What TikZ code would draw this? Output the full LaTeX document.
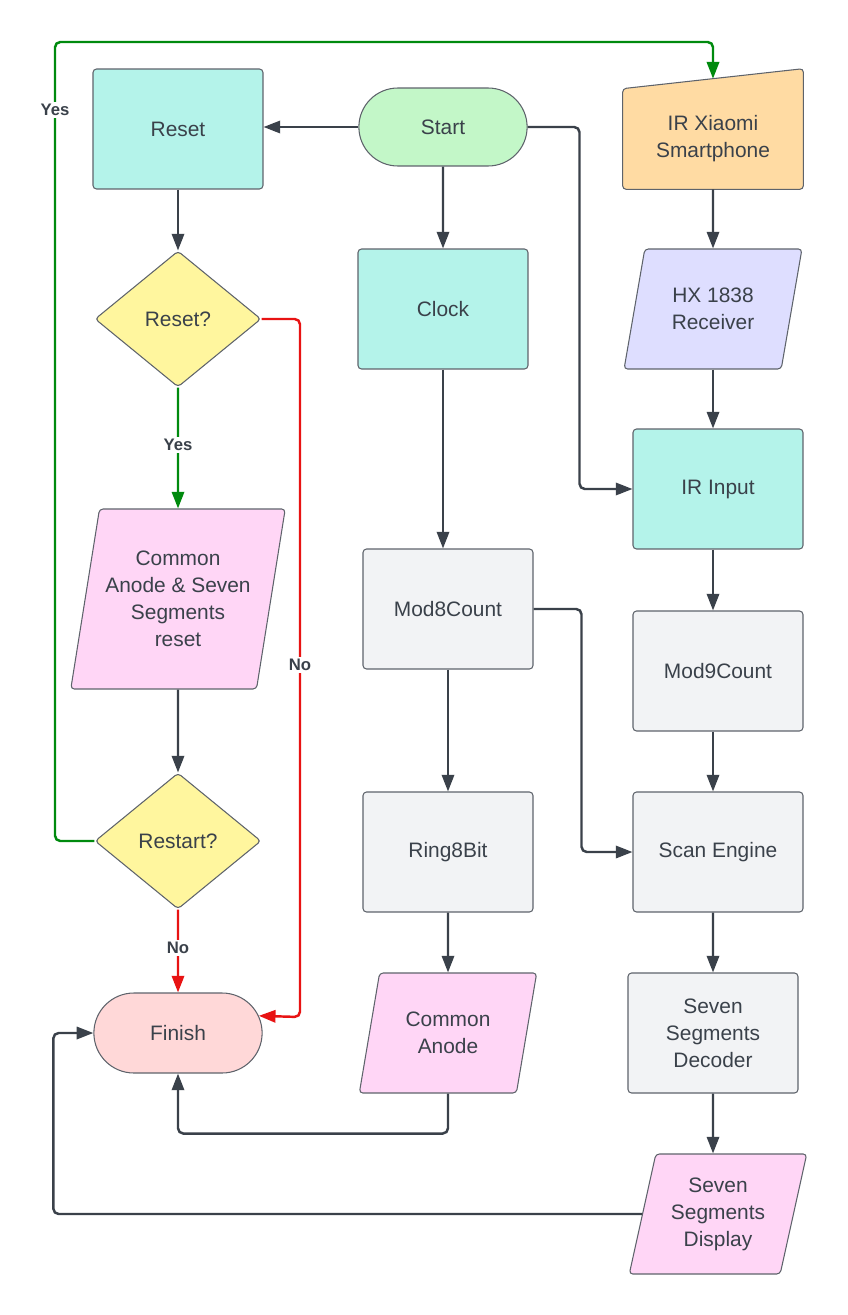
\documentclass[tikz,border=0pt]{standalone}
\usepackage{fontspec}
\setmainfont{Liberation Sans}
\usetikzlibrary{arrows.meta,shapes.geometric,shapes.misc,backgrounds}
\definecolor{ink}{HTML}{3A414A}
\definecolor{rim}{HTML}{5E636B}
\definecolor{cyanfill}{HTML}{B4F3EA}
\definecolor{greenfill}{HTML}{C3F7C8}
\definecolor{orangefill}{HTML}{FFDBA3}
\definecolor{lilacfill}{HTML}{DEDEFF}
\definecolor{pinkfill}{HTML}{FFD6F6}
\definecolor{grayfill}{HTML}{F2F3F5}
\definecolor{yellowfill}{HTML}{FFF69E}
\definecolor{redfill}{HTML}{FFD8D8}
\definecolor{yesgreen}{HTML}{008A0E}
\definecolor{nored}{HTML}{E81313}
\begin{document}
\begin{tikzpicture}[x=0.02cm, y=-0.02cm,
  every node/.style={text=ink, align=center, font=\fontsize{11.9}{15.3}\selectfont},
  procbox/.style={draw=rim, line width=0.6pt, rounded corners=2pt, minimum width=3.4cm, minimum height=2.4cm},
  termbox/.style={rounded rectangle, draw=rim, line width=0.6pt, minimum width=3.6cm, minimum height=1.56cm},
  askbox/.style={diamond, draw=rim, line width=0.6pt, rounded corners=2pt, fill=yellowfill, minimum width=3.32cm, minimum height=2.72cm, inner sep=0pt},
  iobox/.style={trapezium, trapezium left angle=75, trapezium right angle=105, trapezium stretches=true, draw=rim, line width=0.6pt, rounded corners=2pt, minimum width=3.56cm, minimum height=2.4cm},
  conn/.style={draw=ink, line width=1.4pt, rounded corners=3pt, -{Triangle[length=9.5pt,width=7pt]}},
  lab/.style={fill=white, inner sep=1.5pt, font=\bfseries\fontsize{9.5}{11}\selectfont}]
  \useasboundingbox (0,0) rectangle (848,1315);

  % left column
  \node[procbox, fill=cyanfill] (reset) at (178,129) {Reset};
  \node[askbox] (askreset) at (178,319) {Reset?};
  \node[iobox, fill=pinkfill, minimum width=4.1cm, minimum height=3.6cm] (clear) at (178,599) {Common\\Anode \& Seven\\Segments\\reset};
  \node[askbox] (askrestart) at (178,841) {Restart?};
  \node[termbox, fill=redfill, minimum height=1.6cm] (finish) at (178,1033) {Finish};

  % middle column
  \node[termbox, fill=greenfill] (start) at (443,127) {Start};
  \node[procbox, fill=cyanfill] (clock) at (443,309) {Clock};
  \node[procbox, fill=grayfill] (mod8) at (448,609) {Mod8Count};
  \node[procbox, fill=grayfill] (ring) at (448,852) {Ring8Bit};
  \node[iobox, fill=pinkfill] (anode) at (448,1033) {Common\\Anode};

  % right column
  \node[minimum width=3.6cm, minimum height=2cm] (xiao) at (713,139) {IR Xiaomi\\Smartphone};
  \begin{scope}[on background layer]
    \draw[draw=rim, line width=0.6pt, fill=orangefill, rounded corners=2pt]
      (xiao.south west) -- (xiao.south east) -- ([yshift=0.4cm]xiao.north east) -- (xiao.north west) -- cycle;
  \end{scope}
  \node[iobox, fill=lilacfill] (hx) at (713,309) {HX 1838\\Receiver};
  \node[procbox, fill=cyanfill] (irin) at (718,489) {IR Input};
  \node[procbox, fill=grayfill] (mod9) at (718,671) {Mod9Count};
  \node[procbox, fill=grayfill] (scan) at (718,852) {Scan Engine};
  \node[procbox, fill=grayfill] (decoder) at (713,1033) {Seven\\Segments\\Decoder};
  \node[iobox, fill=pinkfill] (display) at (718,1214) {Seven\\Segments\\Display};

  % connectors
  \draw[conn] (start.west) -- (start.west -| reset.east);
  \draw[conn] (start) -- (clock);
  \draw[conn] (start.east) -| ([xshift=-1.06cm]irin.west) -- (irin.west);
  \draw[conn] (reset) -- (askreset);
  \draw[conn, draw=yesgreen, -{Triangle[length=9.5pt,width=7pt,fill=yesgreen]}] (askreset) -- (clear);
  \draw[conn, draw=nored] (askreset.east) -| (300,1017) -- (finish.12);
  \draw[conn] (clear) -- (askrestart);
  \draw[conn, draw=yesgreen] (askrestart.west) -| (55,42) -| ([yshift=0.2cm]xiao.north);
  \draw[conn, draw=nored] (askrestart) -- (finish);
  \draw[conn] (clock.south) -- (clock.south |- mod8.north);
  \draw[conn] (mod8) -- (ring);
  \draw[conn] (mod8.east) -| ([xshift=-1.02cm]scan.west) -- (scan.west);
  \draw[conn] (ring) -- (anode);
  \draw[conn] (anode.south) -- ++(0,40) -| (finish.south);
  \draw[conn] (xiao) -- (hx);
  \draw[conn] (hx.south) -- (hx.south |- irin.north);
  \draw[conn] ([xshift=-0.1cm]irin.south) -- ([xshift=-0.1cm]mod9.north);
  \draw[conn] ([xshift=-0.1cm]mod9.south) -- ([xshift=-0.1cm]scan.north);
  \draw[conn] ([xshift=-0.1cm]scan.south) -- (decoder.north);
  \draw[conn] (decoder.south) -- ([xshift=-0.1cm]display.north);
  \draw[conn] (display.west) -| ([xshift=-0.8cm]finish.west) -- (finish.west);

  % branch labels
  \node[lab] at (55,110) {Yes};
  \node[lab] at (178,445) {Yes};
  \node[lab] at (300,665) {No};
  \node[lab] at (178,948) {No};
\end{tikzpicture}
\end{document}
